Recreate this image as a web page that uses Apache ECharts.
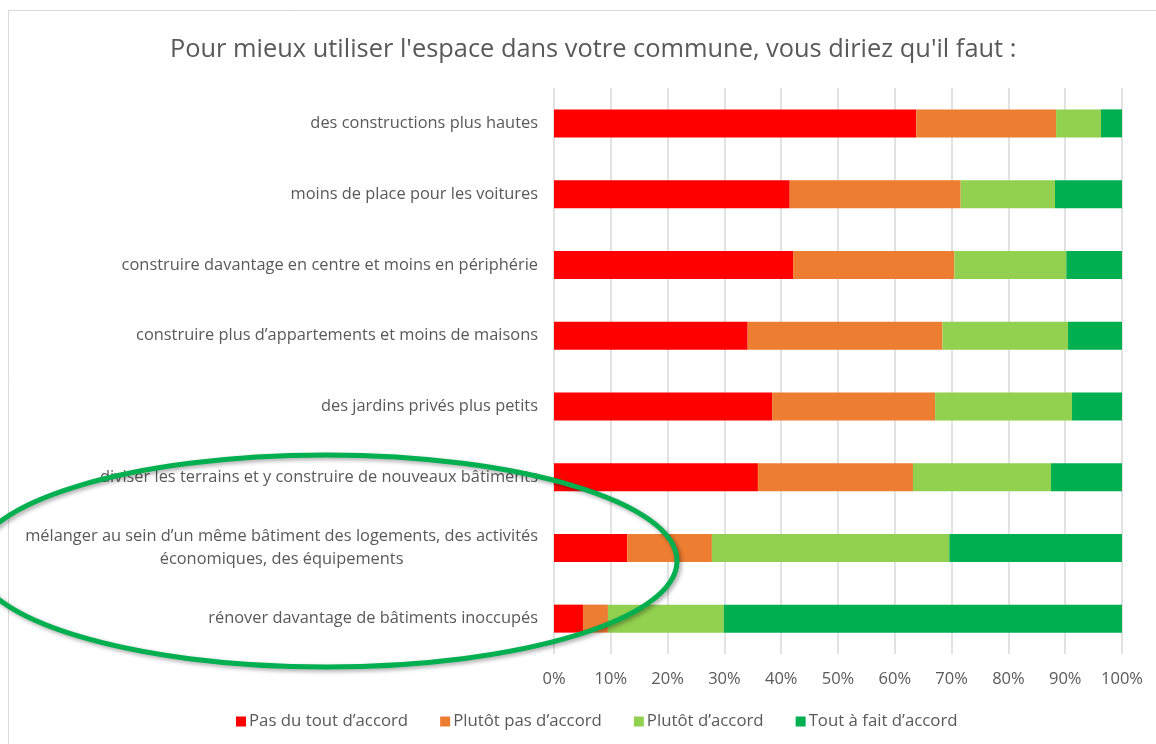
<!DOCTYPE html>
<html>
<head>
<meta charset="utf-8">
<script src="https://cdn.jsdelivr.net/npm/echarts@6/dist/echarts.min.js"></script>
<style>
html,body{margin:0;padding:0;background:#fff;}
#chart{width:1156px;height:744px;}
</style>
</head>
<body>
<div id="chart"></div>
<script>
const titleText = "Pour mieux utiliser l'espace dans votre commune, vous diriez qu'il faut :";
const categories = [
  "des constructions plus hautes",
  "moins de place pour les voitures",
  "construire davantage en centre et moins en périphérie",
  "construire plus d’appartements et moins de maisons",
  "des jardins privés plus petits",
  "diviser les terrains et y construire de nouveaux bâtiments",
  "mélanger au sein d’un même bâtiment des logements, des activités\néconomiques, des équipements",
  "rénover davantage de bâtiments inoccupés"
];
const seriesNames = ["Pas du tout d’accord", "Plutôt pas d’accord", "Plutôt d’accord", "Tout à fait d’accord"];
const pasDuTout   = [63.8, 41.5, 42.1, 34.1, 38.4, 35.9, 12.9, 5.1];
const plutotPas   = [24.6, 30.1, 28.4, 34.3, 28.7, 27.3, 14.9, 4.4];
const plutot      = [7.9, 16.6, 19.7, 22.1, 24.1, 24.3, 41.8, 20.4];
const toutAFait   = [3.7, 11.8, 9.8, 9.5, 8.8, 12.5, 30.4, 70.1];
const colors = ["#ff0000", "#ed7d31", "#92d050", "#00b050"];

const font = "'Open Sans', Lato, sans-serif";
const chart = echarts.init(document.getElementById('chart'));
const dataSets = [pasDuTout, plutotPas, plutot, toutAFait];

chart.setOption({
  animation: false,
  color: colors,
  title: {
    text: titleText,
    left: 165,
    top: 32,
    textStyle: {fontFamily: font, fontSize: 25.4, fontWeight: 'normal', color: '#595959'}
  },
  legend: {
    top: 708,
    left: 231,
    itemWidth: 10,
    itemHeight: 10,
    itemGap: 32,
    icon: 'rect',
    textStyle: {fontFamily: font, fontSize: 16.8, color: '#595959', padding: [0, 0, 0, -2]},
    data: seriesNames
  },
  grid: {left: 554, right: 34, top: 88, bottom: 90},
  xAxis: {
    type: 'value',
    min: 0, max: 100, interval: 10,
    axisLine: {show: false},
    axisTick: {show: false},
    splitLine: {lineStyle: {color: '#d9d9d9', width: 1.5}},
    axisLabel: {formatter: '{value}%', fontFamily: font, fontSize: 16.5, color: '#595959', margin: 17}
  },
  yAxis: {
    type: 'category',
    inverse: true,
    data: categories,
    axisLine: {show: false},
    axisTick: {show: false},
    axisLabel: {
      fontFamily: font, fontSize: 16.4, color: '#595959', margin: 16, lineHeight: 23,
      formatter: function (v) {
        return v.split('\n').map(s => '{a|' + s + '}').join('\n');
      },
      rich: {a: {fontFamily: font, fontSize: 16.4, color: '#595959', align: 'center', lineHeight: 23}}
    }
  },
  series: seriesNames.map((n, i) => ({
    name: n,
    type: 'bar',
    stack: 'total',
    barWidth: 28,
    data: dataSets[i],
    itemStyle: {color: colors[i]}
  })),
  graphic: [
    {
      type: 'rect',
      silent: true,
      z: -10,
      shape: {x: 8.5, y: 10.5, width: 1300, height: 900},
      style: {fill: null, stroke: '#d9d9d9', lineWidth: 1}
    },
    {
      type: 'ellipse',
      silent: true,
      z: 100,
      shape: {cx: 326, cy: 561, rx: 351, ry: 106},
      style: {fill: null, stroke: '#00b050', lineWidth: 5,
        shadowBlur: 4, shadowOffsetX: 2, shadowOffsetY: 2, shadowColor: 'rgba(0,0,0,0.35)'}
    }
  ]
});
</script>
</body>
</html>
